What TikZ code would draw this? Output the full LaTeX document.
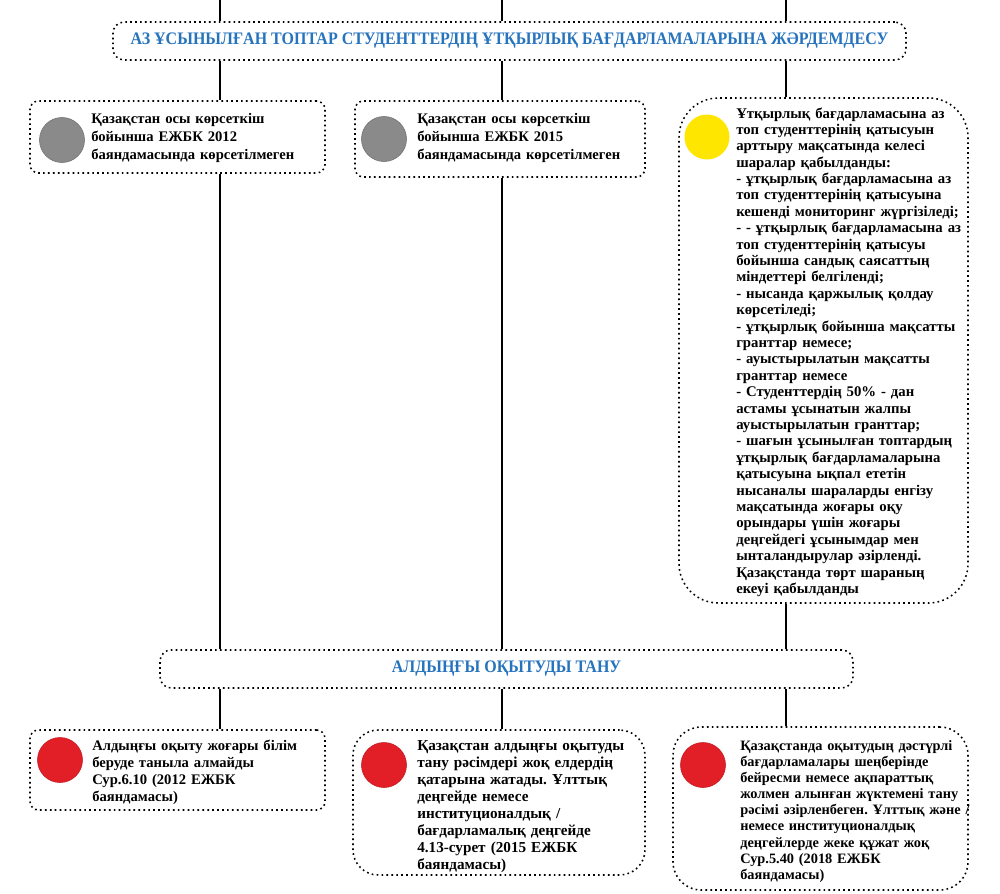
\documentclass[tikz,border=0pt]{standalone}
\usepackage{fontspec}
\setmainfont{Liberation Serif}
\newfontfamily\headfont[FakeStretch=0.91]{Liberation Serif}
\usetikzlibrary{positioning,fit}
\frenchspacing

\definecolor{headblue}{RGB}{38,115,190}
\definecolor{discgrey}{RGB}{138,138,138}
\definecolor{discyellow}{RGB}{255,230,0}
\definecolor{discred}{RGB}{226,30,38}

\begin{document}
\begin{tikzpicture}[
    x=0.025cm, y=-0.025cm,
    board/.style={draw, line width=1.1pt, dash pattern=on 1.2pt off 2.3pt, rounded corners=6pt, inner sep=0pt},
    headline/.style={board, rounded corners=8pt},
    headtext/.style={inner sep=0pt, font=\headfont\bfseries\fontsize{12.5}{14}\selectfont, text=headblue},
    disc/.style={circle, inner sep=0pt, minimum size=32pt},
    note/.style={anchor=base west, align=left, inner sep=0pt, text width=200pt, font=\bfseries\fontsize{10.5}{11.8}\selectfont},
    link/.style={line width=0.9pt}
]
\useasboundingbox[fill=white] (0,0) rectangle (1000,894);

% column tops
\coordinate (top1) at (220,0);
\coordinate (top2) at (502,0);
\coordinate (top3) at (786,0);

% headings
\node[headline, fit={(113,22) (906,60)}] (head1) {};
\node[headtext] (title1) at (head1.center) {АЗ ҰСЫНЫЛҒАН ТОПТАР СТУДЕНТТЕРДІҢ ҰТҚЫРЛЫҚ БАҒДАРЛАМАЛАРЫНА ЖӘРДЕМДЕСУ};
\node[headline, fit={(160,650) (853,688)}] (head2) {};
\node[headtext] (title2) at (head2.center) {АЛДЫҢҒЫ ОҚЫТУДЫ ТАНУ};

% first row
\node[board, fit={(30,101) (325,173)}] (boxA) {};
\node[disc, fill=discgrey, draw=discgrey!80!black, line width=0.4pt] (discA) at (62,140) {};
\node[note, font=\bfseries\fontsize{10.4}{13}\selectfont] (noteA) at (91,123) {Қазақстан осы көрсеткіш\\
бойынша ЕЖБК 2012\\
баяндамасында көрсетілмеген};

\node[board, fit={(355,101) (645,177)}] (boxB) {};
\node[disc, fill=discgrey, draw=discgrey!80!black, line width=0.4pt] (discB) at (384,139) {};
\node[note, font=\bfseries\fontsize{10.4}{13}\selectfont] (noteB) at (417,123) {Қазақстан осы көрсеткіш\\
бойынша ЕЖБК 2015\\
баяндамасында көрсетілмеген};

\node[board, rounded corners=28pt, fit={(679,98) (968,603)}] (boxC) {};
\node[disc, fill=discyellow] (discC) at (707,137) {};
\node[note, font=\bfseries\fontsize{10.5}{11.66}\selectfont] (noteC) at (736,118) {Ұтқырлық бағдарламасына аз\\
топ студенттерінің қатысуын\\
арттыру мақсатында келесі\\
шаралар қабылданды:\\
- ұтқырлық бағдарламасына аз\\
топ студенттерінің қатысуына\\
кешенді мониторинг жүргізіледі;\\
- - ұтқырлық бағдарламасына аз\\
топ студенттерінің қатысуы\\
бойынша сандық саясаттың\\
міндеттері белгіленді;\\
- нысанда қаржылық қолдау\\
көрсетіледі;\\
- ұтқырлық бойынша мақсатты\\
гранттар немесе;\\
- ауыстырылатын мақсатты\\
гранттар немесе\\
- Студенттердің 50\% - дан\\
астамы ұсынатын жалпы\\
ауыстырылатын гранттар;\\
- шағын ұсынылған топтардың\\
ұтқырлық бағдарламаларына\\
қатысуына ықпал ететін\\
нысаналы шараларды енгізу\\
мақсатында жоғары оқу\\
орындары үшін жоғары\\
деңгейдегі ұсынымдар мен\\
ынталандырулар әзірленді.\\
Қазақстанда төрт шараның\\
екеуі қабылданды};

% second row
\node[board, fit={(30,730) (325,810)}] (boxD) {};
\node[disc, fill=discred, draw=discred!85!black, line width=0.4pt] (discD) at (60,760) {};
\node[note, font=\bfseries\fontsize{10.4}{12.1}\selectfont] (noteD) at (92,750) {Алдыңғы оқыту жоғары білім\\
беруде таныла алмайды\\
Сур.6.10 (2012 ЕЖБК\\
баяндамасы)};

\node[board, rounded corners=18pt, fit={(353,730) (645,875)}] (boxE) {};
\node[disc, fill=discred, draw=discred!85!black, line width=0.4pt] (discE) at (384,765) {};
\node[note, font=\bfseries\fontsize{10.8}{12.1}\selectfont] (noteE) at (417,750) {Қазақстан алдыңғы оқытуды\\
тану рәсімдері жоқ елдердің\\
қатарына жатады. Ұлттық\\
деңгейде немесе\\
институционалдық /\\
бағдарламалық деңгейде\\
4.13-сурет (2015 ЕЖБК\\
баяндамасы)};

\node[board, rounded corners=20pt, fit={(673,727) (968,890)}] (boxF) {};
\node[disc, fill=discred, draw=discred!85!black, line width=0.4pt] (discF) at (703,765) {};
\node[note, font=\bfseries\fontsize{10.2}{11.5}\selectfont] (noteF) at (740,750) {Қазақстанда оқытудың дәстүрлі\\
бағдарламалары шеңберінде\\
бейресми немесе ақпараттық\\
жолмен алынған жүктемені тану\\
рәсімі әзірленбеген. Ұлттық және /\\
немесе институционалдық\\
деңгейлерде жеке құжат жоқ\\
Сур.5.40 (2018 ЕЖБК\\
баяндамасы)};

% connectors
\draw[link] (top1) -- (head1.north -| top1);
\draw[link] (top2) -- (head1.north -| top2);
\draw[link] (top3) -- (head1.north -| top3);
\draw[link] (head1.south -| top1) -- (boxA.north -| top1);
\draw[link] (head1.south -| top2) -- (boxB.north -| top2);
\draw[link] (head1.south -| top3) -- (boxC.north -| top3);
\draw[link] (boxA.south -| top1) -- (head2.north -| top1);
\draw[link] (boxB.south -| top2) -- (head2.north -| top2);
\draw[link] (boxC.south -| top3) -- (head2.north -| top3);
\draw[link] (head2.south -| top1) -- (boxD.north -| top1);
\draw[link] (head2.south -| top2) -- (boxE.north -| top2);
\draw[link] (head2.south -| top3) -- (boxF.north -| top3);

\end{tikzpicture}
\end{document}
